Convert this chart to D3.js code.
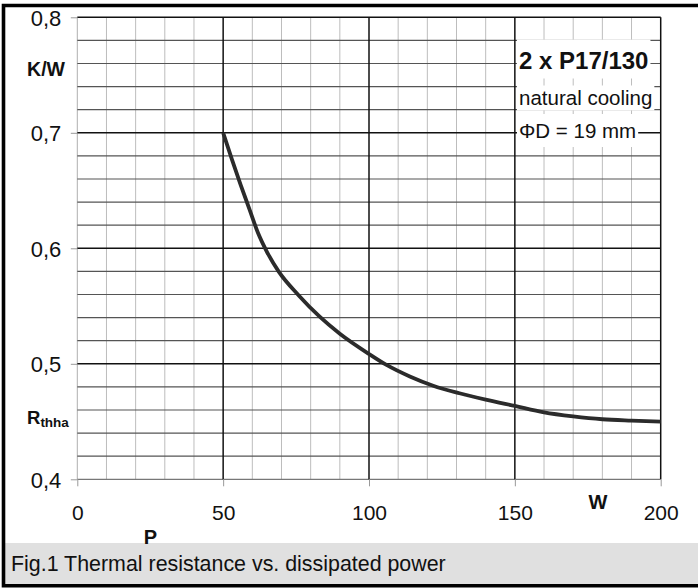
<!DOCTYPE html>
<html>
<head>
<meta charset="utf-8">
<script src="https://cdn.jsdelivr.net/npm/d3@7"></script>
<style>
  body { margin: 0; background: #fff; }
  svg { display: block; font-family: "Liberation Sans", Arial, sans-serif; }
</style>
</head>
<body>
<svg id="chart"></svg>
<script>
// data
const power = [50, 53, 56, 59, 62, 65, 69, 76, 83, 90, 100, 106, 114, 122, 131, 140, 150, 160, 170, 180, 190, 200];
const rth = [0.700, 0.677, 0.655, 0.634, 0.613, 0.597, 0.580, 0.559, 0.541, 0.526, 0.5085, 0.499, 0.489, 0.481, 0.4745, 0.469, 0.4635, 0.458, 0.4545, 0.452, 0.4508, 0.4499];

const xTicks = [0, 50, 100, 150, 200];
const yTicks = [0.4, 0.5, 0.6, 0.7, 0.8];
const noteLines = ["2 x P17/130", "natural cooling", "\u03A6D = 19 mm"];
const caption = "Fig.1 Thermal resistance vs. dissipated power";

class Chart {

  constructor(_config) {
    this.config = {
      parentElement: _config.parentElement,
      containerWidth: _config.containerWidth || 698,
      containerHeight: _config.containerHeight || 588
    }
    this.initVis();
  }

  initVis() {
    let vis = this;

    vis.svg = d3.select(vis.config.parentElement)
      .attr('width', vis.config.containerWidth)
      .attr('height', vis.config.containerHeight);

    // plot box in pixels
    vis.x = d3.scaleLinear().domain([0, 200]).range([77.3, 660.7]);
    vis.y = d3.scaleLinear().domain([0.4, 0.8]).range([479.3, 17.3]);

    vis.renderVis();
  }

  renderVis() {
    let vis = this;
    const x = vis.x, y = vis.y;
    const x0 = x.range()[0], x1 = x.range()[1];
    const y0 = y.range()[0], y1 = y.range()[1];

    // caption band
    vis.svg.append('rect')
      .attr('x', 4).attr('y', 543)
      .attr('width', 694).attr('height', 41)
      .attr('fill', '#e0e0e0');

    vis.svg.append('text')
      .attr('x', 11).attr('y', 570.5)
      .attr('font-size', 21.4)
      .attr('fill', '#111')
      .text(caption);

    // grid: minor lines first
    const g = vis.svg.append('g');
    const minorX = d3.range(10, 200, 10).filter(d => d % 50 !== 0);
    const minorY = d3.range(0, 21).map(i => 0.4 + i * 0.02)
      .filter((d, i) => i % 5 !== 0);

    g.selectAll('.vminor').data(minorX).join('line')
      .attr('x1', d => x(d)).attr('x2', d => x(d))
      .attr('y1', y1).attr('y2', y0)
      .attr('stroke', '#bdbdbd').attr('stroke-width', 1);

    // left edge of the plot is light too
    g.append('line')
      .attr('x1', x0).attr('x2', x0).attr('y1', y1).attr('y2', y0)
      .attr('stroke', '#b0b0b0').attr('stroke-width', 1);

    g.selectAll('.hminor').data(minorY).join('line')
      .attr('x1', x0).attr('x2', x1)
      .attr('y1', d => y(d)).attr('y2', d => y(d))
      .attr('stroke', '#555').attr('stroke-width', 1.2);

    // bottom edge
    g.append('line')
      .attr('x1', x0).attr('x2', x1).attr('y1', y0).attr('y2', y0)
      .attr('stroke', '#777').attr('stroke-width', 1.2);

    g.selectAll('.hmajor').data(yTicks.slice(1)).join('line')
      .attr('x1', x0).attr('x2', x1)
      .attr('y1', d => y(d)).attr('y2', d => y(d))
      .attr('stroke', '#111').attr('stroke-width', 1.5);

    g.selectAll('.vmajor').data(xTicks.slice(1)).join('line')
      .attr('x1', d => x(d)).attr('x2', d => x(d))
      .attr('y1', y1).attr('y2', y0)
      .attr('stroke', '#111').attr('stroke-width', 1.5);

    // axes (labels with decimal comma)
    const yAxis = d3.axisLeft(y)
      .tickValues(yTicks)
      .tickSize(6.5)
      .tickPadding(9.5)
      .tickFormat(d => d.toFixed(1).replace('.', ','));

    const xAxis = d3.axisBottom(x)
      .tickValues(xTicks)
      .tickSize(7)
      .tickPadding(18.5);

    const ya = vis.svg.append('g').attr('transform', `translate(${x0},0)`).call(yAxis);
    const xa = vis.svg.append('g').attr('transform', `translate(0,${y0})`).call(xAxis);

    [ya, xa].forEach(a => {
      a.select('.domain').remove();
      a.selectAll('.tick line').attr('stroke', '#999');
      a.selectAll('.tick text')
        .attr('font-family', '"Liberation Sans", Arial, sans-serif')
        .attr('font-size', 21)
        .attr('fill', '#111');
    });
    ya.selectAll('.tick text').attr('dy', '0.36em').attr('font-size', 22);

    // curve
    const line = d3.line()
      .x(d => x(d[0]))
      .y(d => y(d[1]))
      .curve(d3.curveMonotoneX);

    vis.svg.append('path')
      .datum(power.map((p, i) => [p, rth[i]]))
      .attr('d', line)
      .attr('fill', 'none')
      .attr('stroke', '#2b2b2b')
      .attr('stroke-width', 3.8)
      .attr('stroke-linejoin', 'round');

    // note box, white patches behind each line
    const notes = [
      { text: noteLines[0], y: 68.5, size: 24, weight: 'bold', pad: [29, 10] },
      { text: noteLines[1], y: 104.5, size: 20.5, weight: 'normal', pad: [19, 6] },
      { text: noteLines[2], y: 138, size: 20.5, weight: 'normal', pad: [24, 9] }
    ];
    notes.forEach(n => {
      const t = vis.svg.append('text')
        .attr('x', 519).attr('y', n.y)
        .attr('font-size', n.size)
        .attr('font-weight', n.weight)
        .attr('fill', '#111')
        .text(n.text);
      const bb = t.node().getBBox();
      vis.svg.insert('rect', () => t.node())
        .attr('x', 517)
        .attr('y', n.y - n.pad[0])
        .attr('width', bb.width + 4)
        .attr('height', n.pad[0] + n.pad[1])
        .attr('fill', '#fff');
    });

    // axis unit labels
    vis.svg.append('text')
      .attr('x', 65).attr('y', 76)
      .attr('text-anchor', 'end')
      .attr('font-size', 19.5).attr('font-weight', 'bold')
      .attr('fill', '#111')
      .text('K/W');

    const rl = vis.svg.append('text')
      .attr('x', 27).attr('y', 423.5)
      .attr('font-size', 18.5).attr('font-weight', 'bold')
      .attr('fill', '#111');
    rl.append('tspan').text('R');
    rl.append('tspan').attr('dy', 3.5).attr('font-size', 13.5).text('thha');

    vis.svg.append('text')
      .attr('x', x(178.5)).attr('y', 508.5)
      .attr('text-anchor', 'middle')
      .attr('font-size', 20).attr('font-weight', 'bold')
      .attr('fill', '#111')
      .text('W');

    vis.svg.append('text')
      .attr('x', x(25.1)).attr('y', 543.5)
      .attr('text-anchor', 'middle')
      .attr('font-size', 20).attr('font-weight', 'bold')
      .attr('fill', '#111')
      .text('P');

    // outer frame (open on the right)
    vis.svg.append('path')
      .attr('d', 'M 702 5.5 H 3.5 V 585.8 H 702')
      .attr('fill', 'none')
      .attr('stroke', '#000')
      .attr('stroke-width', 3.6);
  }
}

new Chart({ parentElement: '#chart' });
</script>
</body>
</html>
